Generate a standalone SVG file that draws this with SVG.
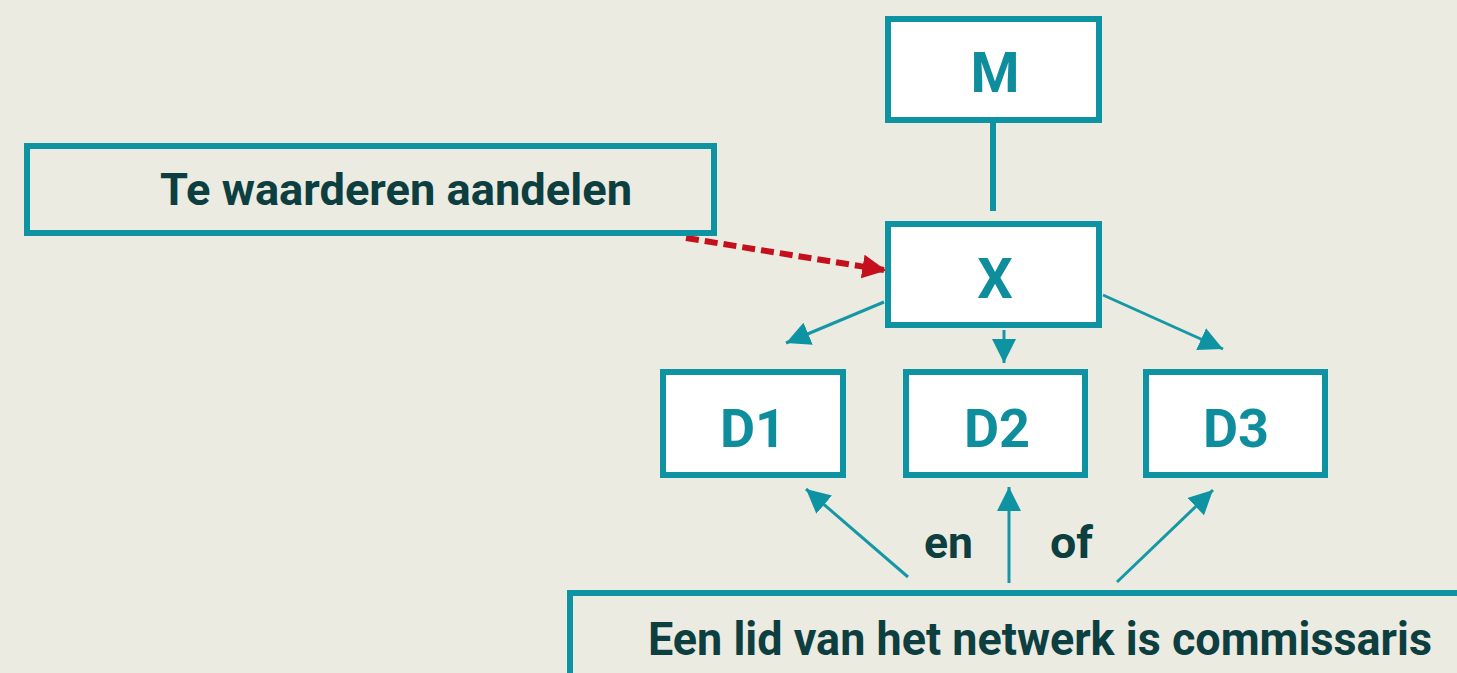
<svg xmlns="http://www.w3.org/2000/svg" width="1457" height="673" viewBox="0 0 1457 673">
<defs>
<style>
.box{fill:#ffffff;stroke:#0e93a3;stroke-width:6}
.lbox{fill:#ecebe2;stroke:#0e93a3;stroke-width:6}
.node{font-family:Roboto,"Liberation Sans",sans-serif;font-weight:700;fill:#0e8d9c;text-anchor:middle}
.lbl{font-family:Roboto,"Liberation Sans",sans-serif;font-weight:700;fill:#0d3f40}
.arr{stroke:#1597a6;stroke-width:3;fill:none}
</style>
<marker id="ah" viewBox="0 0 10 10" refX="10" refY="5" markerWidth="7" markerHeight="7" markerUnits="userSpaceOnUse" orient="auto">
<path d="M0,0 L10,5 L0,10 z" fill="#0e93a3"/>
</marker>
<marker id="ahb" viewBox="0 0 10 10" refX="10" refY="5" markerWidth="8" markerHeight="8" orient="auto">
<path d="M0,0 L10,5 L0,10 z" fill="#0e93a3"/>
</marker>
<marker id="ahr" viewBox="0 0 10 10" refX="9" refY="5" markerWidth="4" markerHeight="4" orient="auto">
<path d="M0,0 L10,5 L0,10 z" fill="#c40f1c"/>
</marker>
</defs>
<rect width="1457" height="673" fill="#ecebe2"/>
<g id="connectors">
<line x1="993" y1="122" x2="993" y2="211" stroke="#0e93a3" stroke-width="6"/>
<line x1="686" y1="238" x2="884" y2="270" stroke="#c40f1c" stroke-width="6" stroke-dasharray="13,6" marker-end="url(#ahr)"/>
<line class="arr" x1="884" y1="302" x2="786" y2="343" marker-end="url(#ahb)"/>
<line class="arr" x1="1004" y1="330" x2="1004" y2="363" marker-end="url(#ahb)"/>
<line class="arr" x1="1103" y1="295" x2="1223" y2="349" marker-end="url(#ahb)"/>
<line class="arr" x1="908" y1="577" x2="806" y2="489" marker-end="url(#ahb)"/>
<line class="arr" x1="1009" y1="583" x2="1009" y2="487" marker-end="url(#ahb)"/>
<line class="arr" x1="1117" y1="582" x2="1213" y2="490" marker-end="url(#ahb)"/>
</g>
<g id="node-M"><rect class="box" x="888" y="19" width="211" height="101"/><text class="node" x="995" y="92" font-size="56">M</text></g>
<g id="node-X"><rect class="box" x="888" y="224" width="211" height="101"/><text class="node" x="995" y="298" font-size="56">X</text></g>
<g id="node-D1"><rect class="box" x="663" y="372" width="180" height="103"/><text class="node" x="753" y="447" font-size="54">D1</text></g>
<g id="node-D2"><rect class="box" x="906" y="372" width="179" height="103"/><text class="node" x="997" y="447" font-size="54">D2</text></g>
<g id="node-D3"><rect class="box" x="1146" y="372" width="179" height="103"/><text class="node" x="1236" y="447" font-size="54">D3</text></g>
<g id="node-aandelen"><rect class="lbox" x="27" y="146" width="687" height="87"/><text class="lbl" x="160" y="205" font-size="44" textLength="472" lengthAdjust="spacingAndGlyphs">Te waarderen aandelen</text></g>
<g id="node-commissaris"><rect class="lbox" x="570" y="593" width="900" height="100"/><text class="lbl" x="648" y="655" font-size="46" textLength="784" lengthAdjust="spacingAndGlyphs">Een lid van het netwerk is commissaris</text></g>
<g id="labels">
<text class="lbl" x="924" y="558" font-size="44" textLength="49" lengthAdjust="spacingAndGlyphs">en</text>
<text class="lbl" x="1050" y="558" font-size="44" textLength="43" lengthAdjust="spacingAndGlyphs">of</text>
</g>
</svg>
